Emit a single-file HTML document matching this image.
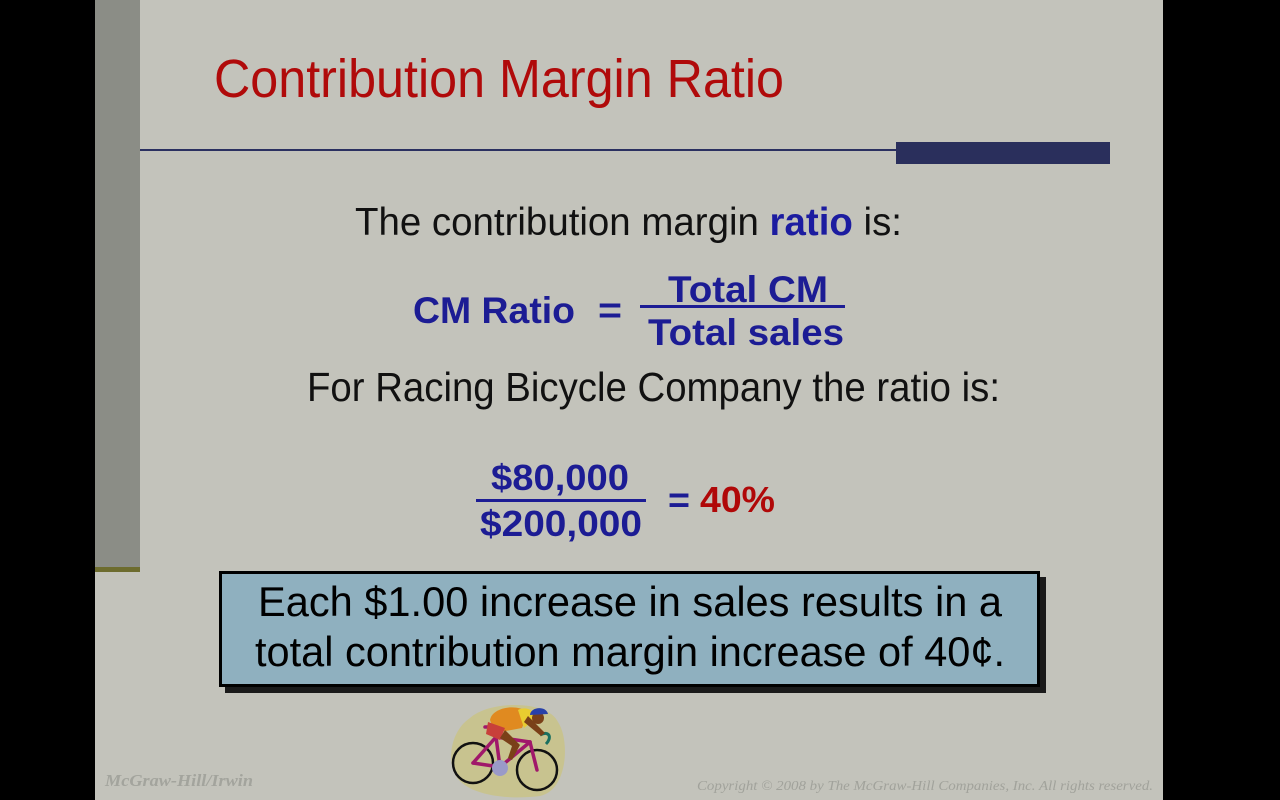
<!DOCTYPE html>
<html>
<head>
<meta charset="utf-8">
<style>
html,body{margin:0;padding:0;background:#000;}
body{width:1280px;height:800px;overflow:hidden;}
svg{display:block;}
</style>
</head>
<body>
<svg width="1280" height="800" viewBox="0 0 1280 800" xmlns="http://www.w3.org/2000/svg">
  <rect x="0" y="0" width="1280" height="800" fill="#000"/>
  <!-- slide -->
  <rect x="95" y="0" width="1068" height="800" fill="#c3c3bb"/>
  <!-- left gray bar -->
  <rect x="95" y="0" width="45" height="567" fill="#8b8d86"/>
  <rect x="95" y="567" width="45" height="5" fill="#6d6c2e"/>
  <!-- header rule -->
  <rect x="140" y="149" width="758" height="2" fill="#2b3060"/>
  <rect x="896" y="142" width="214" height="22" fill="#2a2f5c"/>

  <!-- title -->
  <text x="214" y="97" font-family="Liberation Sans, Arial, sans-serif" font-size="54" fill="#b00a0a" textLength="570" lengthAdjust="spacingAndGlyphs">Contribution Margin Ratio</text>

  <!-- line 1 -->
  <text x="355" y="235" font-family="Liberation Sans, Arial, sans-serif" font-size="39" fill="#111" textLength="547" lengthAdjust="spacingAndGlyphs">The contribution margin <tspan font-weight="bold" fill="#1c1ca0">ratio</tspan> is:</text>

  <!-- CM Ratio formula -->
  <g font-family="Liberation Sans, Arial, sans-serif" font-weight="bold" font-size="37" fill="#1c1c94">
    <text x="413" y="323" textLength="162" lengthAdjust="spacingAndGlyphs">CM Ratio</text>
    <text x="598" y="323" textLength="24" lengthAdjust="spacingAndGlyphs">=</text>
    <text x="668" y="302" textLength="160" lengthAdjust="spacingAndGlyphs">Total CM</text>
    <text x="648" y="345" textLength="196" lengthAdjust="spacingAndGlyphs">Total sales</text>
  </g>
  <rect x="640" y="305" width="205" height="3" fill="#1c1c94"/>

  <!-- line 2 -->
  <text x="307" y="401" font-family="Liberation Sans, Arial, sans-serif" font-size="41" fill="#111" textLength="693" lengthAdjust="spacingAndGlyphs">For Racing Bicycle Company the ratio is:</text>

  <!-- numeric fraction -->
  <g font-family="Liberation Sans, Arial, sans-serif" font-weight="bold" font-size="36">
    <text x="491" y="490" fill="#1c1c94" textLength="138" lengthAdjust="spacingAndGlyphs">$80,000</text>
    <text x="480" y="536" fill="#1c1c94" textLength="162" lengthAdjust="spacingAndGlyphs">$200,000</text>
    <text x="668" y="512" fill="#1c1c94" textLength="22" lengthAdjust="spacingAndGlyphs">=</text>
    <text x="700" y="512" fill="#b00808" textLength="75" lengthAdjust="spacingAndGlyphs">40%</text>
  </g>
  <rect x="476" y="499" width="170" height="3" fill="#1c1c94"/>

  <!-- highlight box -->
  <rect x="225" y="577" width="821" height="116" fill="#1a1a1a"/>
  <rect x="220.5" y="572.5" width="818" height="113" fill="#8fb0bf" stroke="#000" stroke-width="3"/>
  <g font-family="Liberation Sans, Arial, sans-serif" font-size="42" fill="#000">
    <text x="258" y="616" textLength="744" lengthAdjust="spacingAndGlyphs">Each $1.00 increase in sales results in a</text>
    <text x="255" y="666" textLength="750" lengthAdjust="spacingAndGlyphs">total contribution margin increase of 40¢.</text>
  </g>

  <!-- bicycle clipart -->
  <g>
    <path d="M470 718 C 490 700, 548 700, 558 722 C 570 740, 568 790, 540 796 C 510 800, 468 796, 456 776 C 446 758, 452 730, 470 718 Z" fill="#c8c38f"/>
    <circle cx="473" cy="763" r="20" fill="none" stroke="#111" stroke-width="2.5"/>
    <circle cx="537" cy="770" r="20" fill="none" stroke="#111" stroke-width="2.5"/>
    <g stroke="#a0186a" stroke-width="3.5" fill="none" stroke-linecap="round">
      <line x1="473" y1="763" x2="496" y2="737"/>
      <line x1="496" y1="737" x2="530" y2="742"/>
      <line x1="496" y1="737" x2="500" y2="767"/>
      <line x1="473" y1="763" x2="500" y2="767"/>
      <line x1="500" y1="767" x2="530" y2="742"/>
      <line x1="530" y1="742" x2="537" y2="770"/>
      <line x1="485" y1="727" x2="498" y2="727"/>
    </g>
    <path d="M540 735 C 550 730, 552 738, 546 744" stroke="#1a7060" stroke-width="3" fill="none"/>
    <circle cx="500" cy="768" r="8" fill="#9a9ac8"/>
    <path d="M490 720 C 492 708, 515 703, 528 712 L 522 728 L 495 733 Z" fill="#e08a20"/>
    <path d="M518 710 C 525 706, 535 710, 536 718 L 524 728 Z" fill="#e8cc30"/>
    <path d="M488 722 L 505 728 L 500 740 L 486 734 Z" fill="#c8403a"/>
    <path d="M505 730 L 520 745 L 512 760 L 508 758 L 512 746 L 500 738 Z" fill="#7a4018"/>
    <path d="M528 716 L 545 733 L 541 736 L 524 722 Z" fill="#7a4018"/>
    <circle cx="538" cy="718" r="6" fill="#7a4018"/>
    <path d="M530 715 C 530 707, 546 705, 548 714 Z" fill="#2840a8"/>
  </g>

  <!-- footer -->
  <text x="105" y="786" font-family="Liberation Serif, Times New Roman, serif" font-style="italic" font-weight="bold" font-size="17" fill="#a3a49d" textLength="148" lengthAdjust="spacingAndGlyphs">McGraw-Hill/Irwin</text>
  <text x="697" y="790" font-family="Liberation Serif, Times New Roman, serif" font-style="italic" font-size="14" fill="#a1a29b" textLength="456" lengthAdjust="spacingAndGlyphs">Copyright © 2008 by The McGraw-Hill Companies, Inc. All rights reserved.</text>
</svg>
</body>
</html>
